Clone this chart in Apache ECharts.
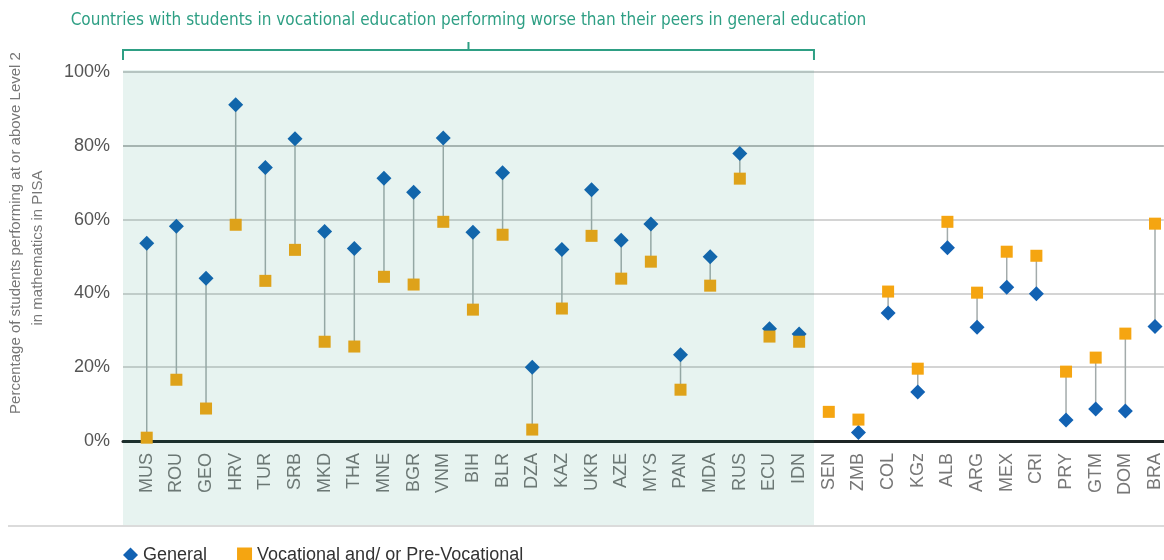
<!DOCTYPE html>
<html>
<head>
<meta charset="utf-8">
<script src="https://cdn.jsdelivr.net/npm/echarts@6/dist/echarts.min.js"></script>
<style>
html,body{margin:0;padding:0;background:#fff;}
#chart{width:1164px;height:560px;}
</style>
</head>
<body>
<div id="chart"></div>
<script>
const categories = ['MUS','ROU','GEO','HRV','TUR','SRB','MKD','THA','MNE','BGR','VNM','BIH','BLR','DZA','KAZ','UKR','AZE','MYS','PAN','MDA','RUS','ECU','IDN','SEN','ZMB','COL','KGz','ALB','ARG','MEX','CRI','PRY','GTM','DOM','BRA'];
const generalValues = [53.6,58.2,44.1,91.1,74.1,81.9,56.8,52.2,71.2,67.4,82.1,56.6,72.7,20.0,51.9,68.1,54.4,58.8,23.4,49.9,77.9,30.4,29.0,null,2.3,34.7,13.3,52.4,30.8,41.7,39.9,5.7,8.7,8.1,31.0];
const vocationalValues = [0.9,16.6,8.8,58.6,43.4,51.8,26.9,25.6,44.5,42.4,59.4,35.6,55.9,3.1,35.9,55.6,44.0,48.6,13.9,42.1,71.1,28.3,26.9,7.9,5.8,40.5,19.6,59.4,40.2,51.3,50.2,18.8,22.6,29.1,58.9];
const yTicks = [0,20,40,60,80,100];
const bracketLast = 'IDN';
const bracketText = 'Countries with students in vocational education performing worse than their peers in general education';
const yTitle1 = 'Percentage of students performing at or above Level 2';
const yTitle2 = 'in mathematics in PISA';

const chart = echarts.init(document.getElementById('chart'), null, {renderer:'canvas'});
const idx = categories.map((c,i)=>i);
const gData = generalValues.map((v,i)=>[i,v]);
const vData = vocationalValues.map((v,i)=>[i,v]);
const pairData = categories.map((c,i)=>[i, generalValues[i], vocationalValues[i]]);

const option = {
  animation:false,
  grid:{left:123, right:0, top:72, bottom:119, containLabel:false},
  legend:{
    left:118, top:541, itemWidth:15, itemHeight:15, itemGap:30,
    textStyle:{fontSize:18, color:'#333', fontFamily:'Liberation Sans'},
    data:[{name:'General', icon:'diamond'},{name:'Vocational and/ or Pre-Vocational', icon:'rect'}]
  },
  xAxis:{
    type:'value', min:-0.8, max:34.3,
    splitLine:{show:false},
    axisTick:{show:false},
    axisLine:{show:true, onZero:true, lineStyle:{color:'#1e2626', width:3}},
    axisLabel:{
      customValues: idx,
      formatter:(v)=>categories[Math.round(v)] || '',
      rotate:90, margin:12, fontSize:18, color:'#777', fontFamily:'Liberation Sans'
    }
  },
  yAxis:{
    type:'value', min:0, max:100, interval:20,
    axisLine:{show:false}, axisTick:{show:false},
    axisLabel:{formatter:'{value}%', fontSize:18, color:'#555', margin:13, fontFamily:'Liberation Sans'},
    splitLine:{show:true, lineStyle:{color:['#c6c6c6','#c6c6c6','#c6c6c6','#c6c6c6','#9ea2a2','#b6baba'], width:1.5}}
  },
  series:[
    {
      type:'custom', name:'connector', silent:true, z:2,
      data:pairData,
      encode:{x:0, y:[1,2]},
      renderItem:(params, api)=>{
        const g = api.value(1), v = api.value(2);
        if (g == null || v == null || isNaN(g) || isNaN(v)) return null;
        const p1 = api.coord([api.value(0), g]);
        const p2 = api.coord([api.value(0), v]);
        return {type:'line', shape:{x1:p1[0], y1:p1[1], x2:p2[0], y2:p2[1]},
          style:{stroke:'#a3abab', lineWidth:1.5}};
      }
    },
    {type:'scatter', name:'General', symbol:'diamond', symbolSize:15, z:3,
      itemStyle:{color:'#1262b3', opacity:1}, data:gData},
    {type:'scatter', name:'Vocational and/ or Pre-Vocational', symbol:'rect', symbolSize:12, z:4,
      itemStyle:{color:'#f5a511', opacity:1}, data:vData}
  ]
};
chart.setOption(option);

const xL = chart.convertToPixel({xAxisIndex:0}, -0.8);
const xR = chart.convertToPixel({xAxisIndex:0}, categories.indexOf(bracketLast)+0.5);
const yTop = chart.convertToPixel({yAxisIndex:0}, 100);
const xMid = (xL+xR)/2;
const teal = '#2e9f84';
chart.setOption({
  graphic:[
    {type:'rect', z:100, silent:true, shape:{x:xL, y:yTop-2, width:xR-xL, height:525-(yTop-2)},
      style:{fill:'rgba(18,140,110,0.1)'}},
    {type:'line', z:50, shape:{x1:8, y1:526, x2:1164, y2:526}, style:{stroke:'#cfcfcf', lineWidth:1.5}},
    {type:'polyline', z:50, shape:{points:[[xL,60],[xL,50],[xR,50],[xR,60]]}, style:{stroke:teal, lineWidth:2, fill:null}},
    {type:'line', z:50, shape:{x1:xMid, y1:50, x2:xMid, y2:42}, style:{stroke:teal, lineWidth:2}},
    {type:'text', z:50, x:xMid, y:21, style:{text:bracketText, fill:teal, font:'17px "DejaVu Sans Condensed", "Liberation Sans"', textAlign:'center', textVerticalAlign:'middle'}},
    {type:'text', z:50, x:16, y:233, rotation:Math.PI/2, style:{text:yTitle1, fill:'#777', font:'15px "Liberation Sans"', textAlign:'center', textVerticalAlign:'middle'}},
    {type:'text', z:50, x:38, y:248, rotation:Math.PI/2, style:{text:yTitle2, fill:'#777', font:'15px "Liberation Sans"', textAlign:'center', textVerticalAlign:'middle'}}
  ]
});
</script>
</body>
</html>
